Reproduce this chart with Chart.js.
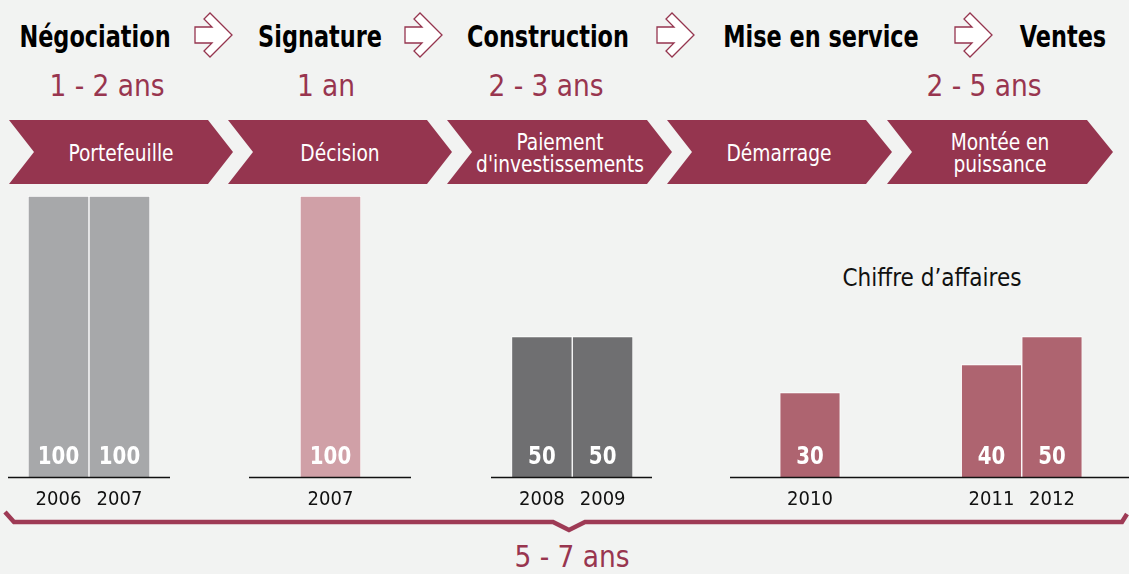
<!DOCTYPE html>
<html lang="fr">
<head>
<meta charset="utf-8">
<script src="https://cdn.jsdelivr.net/npm/chart.js@4/dist/chart.umd.min.js"></script>
<style>
  html, body { margin: 0; padding: 0; }
  body { width: 1129px; height: 574px; background: #f2f3f2; position: relative; overflow: hidden;
         font-family: "DejaVu Sans Condensed", "Liberation Sans", sans-serif; }
  .t { position: absolute; white-space: nowrap; line-height: 1; }
  .stage { font-size: 30px; font-weight: bold; color: #000; transform: translate(-50%, -50%) scaleX(0.83); }
  .dur { font-size: 30px; color: #98354f; transform: translate(-50%, -50%) scaleX(0.98); }
  .chev { font-size: 23px; color: #fff; text-align: center; line-height: 22px; transform: translate(-50%, -50%) scaleX(0.9); }
  .note { font-size: 25px; color: #111; transform: translate(-50%, -50%) scaleX(0.96); }
  .box { position: absolute; top: 190px; height: 325px; }
  svg { position: absolute; left: 0; top: 0; }
</style>
</head>
<body>
<svg width="1129" height="574" id="deco"></svg>
<div id="texts"></div>
<div class="box" style="left:8px;width:162px"><canvas id="c1"></canvas></div>
<div class="box" style="left:249px;width:162px"><canvas id="c2"></canvas></div>
<div class="box" style="left:491px;width:161px"><canvas id="c3"></canvas></div>
<div class="box" style="left:730px;width:399px"><canvas id="c4"></canvas></div>
<script>
// data
const stages = ['Négociation', 'Signature', 'Construction', 'Mise en service', 'Ventes'];
const durations = ['1 - 2 ans', '1 an', '2 - 3 ans', '', '2 - 5 ans'];
const phases = [['Portefeuille'], ['Décision'], ['Paiement', "d'investissements"], ['Démarrage'], ['Montée en', 'puissance']];

const negoYears = ['2006', '2007'];
const negoValues = [100, 100];
const signYears = ['2007'];
const signValues = [100];
const buildYears = ['2008', '2009'];
const buildValues = [50, 50];
const salesYears = ['2010', '', '', '2011', '2012'];
const salesValues = [30, null, null, 40, 50];

const FONT = '"DejaVu Sans Condensed", "Liberation Sans", sans-serif';
const MAROON = '#95354f';

// header texts
const texts = document.getElementById('texts');
function addText(cls, x, y, html) {
  const d = document.createElement('div');
  d.className = 't ' + cls;
  d.style.left = x + 'px';
  d.style.top = y + 'px';
  d.innerHTML = html;
  texts.appendChild(d);
}
const stageX = [95, 320, 548, 821, 1063];
const durX = [107, 326, 546, 0, 984];
stages.forEach((s, i) => addText('stage', stageX[i], 37, s));
durations.forEach((s, i) => { if (s) addText('dur', durX[i], 86, s); });
addText('dur', 572, 557, '5 - 7 ans');
addText('note', 932, 277, 'Chiffre d’affaires');

// arrows, chevrons, brace
const svg = document.getElementById('deco');
let s = '';
[195, 405, 657, 955].forEach(x => {
  const p = [[0,14],[17,14],[9,6],[15,0],[37,22],[15,44],[9,38],[17,30],[0,30]]
    .map(([a,b]) => (x + a) + ',' + (13 + b)).join(' ');
  s += `<polygon points="${p}" fill="#fff" stroke="${MAROON}" stroke-width="1.3"/>`;
});
const chevL = [9, 228, 447, 667, 887];
const chevC = [208, 427, 647, 866, 1087];
const chevP = [233, 452, 672, 892, 1113];
chevL.forEach((l, i) => {
  const n = l + 25;
  s += `<polygon points="${l},120 ${chevC[i]},120 ${chevP[i]},152 ${chevC[i]},184 ${l},184 ${n},152" fill="${MAROON}"/>`;
});
s += `<polyline points="5,512 14,522 553,522 569,530 585,522 1122,522 1127,514" fill="none" stroke="#9e3a55" stroke-width="4.5" stroke-linejoin="miter"/>`;
svg.innerHTML = s;
phases.forEach((lines, i) => {
  const cx = (chevL[i] + 25 + chevC[i]) / 2;
  addText('chev', cx, 153, lines.join('<br>'));
});

// chart plugins
const baseline = {
  id: 'baseline',
  afterDatasetsDraw(chart) {
    const ctx = chart.ctx;
    const y = chart.scales.y.getPixelForValue(0) + 0.5;
    ctx.save();
    ctx.strokeStyle = '#111';
    ctx.lineWidth = 1.5;
    ctx.beginPath();
    ctx.moveTo(0, y);
    ctx.lineTo(chart.width, y);
    ctx.stroke();
    ctx.restore();
  }
};
const valueLabels = {
  id: 'valueLabels',
  afterDatasetsDraw(chart) {
    const ctx = chart.ctx;
    const meta = chart.getDatasetMeta(0);
    const vals = chart.data.datasets[0].data;
    ctx.fillStyle = '#fff';
    ctx.font = 'bold 25px ' + FONT;
    ctx.textAlign = 'center';
    ctx.textBaseline = 'middle';
    meta.data.forEach((bar, i) => {
      if (vals[i] == null) return;
      ctx.save();
      ctx.translate(bar.x, bar.base - 20);
      ctx.scale(0.88, 1);
      ctx.fillText(vals[i], 0, 0);
      ctx.restore();
    });
  }
};

function makeChart(id, labels, values, color, padL, padR) {
  return new Chart(document.getElementById(id), {
    type: 'bar',
    data: {
      labels: labels,
      datasets: [{
        data: values,
        backgroundColor: color,
        borderColor: '#fff',
        borderWidth: { top: 1, left: 1, right: 1, bottom: 0 },
        borderSkipped: 'bottom',
        barPercentage: 1,
        categoryPercentage: 1
      }]
    },
    options: {
      responsive: true,
      maintainAspectRatio: false,
      animation: false,
      events: [],
      layout: { padding: { left: padL, right: padR, top: 6, bottom: 0 } },
      plugins: { legend: { display: false }, tooltip: { enabled: false } },
      scales: {
        x: {
          grid: { display: false, drawTicks: false },
          border: { display: false },
          ticks: { color: '#111', font: { family: FONT, size: 20 }, padding: 11, autoSkip: false, maxRotation: 0 },
          afterFit: sc => { sc.height = 38; }
        },
        y: { display: false, min: 0, max: 100 }
      }
    },
    plugins: [baseline, valueLabels]
  });
}

makeChart('c1', negoYears, negoValues, '#a7a8aa', 20, 20);
makeChart('c2', signYears, signValues, '#d0a0a7', 51, 50);
makeChart('c3', buildYears, buildValues, '#6f6f71', 20.5, 19);
makeChart('c4', salesYears, salesValues, '#ae6470', 49.75, 46.75);
</script>
</body>
</html>
